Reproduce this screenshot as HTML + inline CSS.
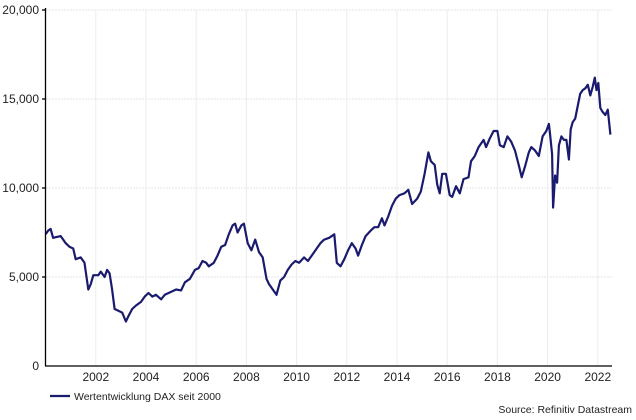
<!DOCTYPE html>
<html><head><meta charset="utf-8"><style>
body{margin:0;background:#fff;}
svg text{font-family:"Liberation Sans",sans-serif;fill:#222;}
</style></head><body>
<svg id="c" width="636" height="415" viewBox="0 0 636 415" xmlns="http://www.w3.org/2000/svg">
<g stroke="#e4e4e4" stroke-width="1" stroke-dasharray="2,1">
<line x1="46" y1="10" x2="612" y2="10"/><line x1="46" y1="99" x2="612" y2="99"/>
<line x1="46" y1="188" x2="612" y2="188"/><line x1="46" y1="277" x2="612" y2="277"/>
</g>
<g id="vg" stroke="#ececec" stroke-width="1"></g>
<polyline id="ln" fill="none" stroke="#1a1a6e" stroke-width="2.2" stroke-linejoin="round"/>
<line x1="45.5" y1="8" x2="45.5" y2="366" stroke="#000" stroke-width="1.3"/>
<line x1="45" y1="366" x2="612" y2="366" stroke="#000" stroke-width="1.3"/>
<g stroke="#000" stroke-width="1.3">
<line x1="42" y1="10" x2="46" y2="10"/><line x1="42" y1="99" x2="46" y2="99"/>
<line x1="42" y1="188" x2="46" y2="188"/><line x1="42" y1="277" x2="46" y2="277"/>
</g>
<g font-size="12" text-anchor="end">
<text x="39" y="14">20,000</text><text x="39" y="103">15,000</text>
<text x="39" y="192">10,000</text><text x="39" y="281">5,000</text><text x="39" y="370">0</text>
</g>
<g id="xl" font-size="12" text-anchor="middle"></g>
<line x1="50" y1="396" x2="70" y2="396" stroke="#1a1a6e" stroke-width="2.2"/>
<text x="74" y="400" font-size="10.5">Wertentwicklung DAX seit 2000</text>
<text x="632" y="413" font-size="10.5" text-anchor="end">Source: Refinitiv Datastream</text>
</svg>
<script>
var d=[2000.0,7400,2000.1,7600,2000.2,7700,2000.3,7200,2000.45,7250,2000.6,7300,2000.7,7100,2000.8,6900,2000.95,6700,2001.1,6600,2001.2,6000,2001.4,6100,2001.55,5800,2001.7,4300,2001.8,4600,2001.9,5100,2002.1,5100,2002.2,5300,2002.35,5000,2002.45,5400,2002.55,5200,2002.65,4300,2002.75,3200,2002.9,3100,2003.05,3000,2003.2,2500,2003.3,2800,2003.45,3200,2003.6,3400,2003.8,3600,2003.95,3900,2004.1,4100,2004.25,3900,2004.4,4000,2004.6,3750,2004.75,4000,2004.9,4100,2005.05,4200,2005.2,4300,2005.4,4250,2005.55,4700,2005.75,4900,2005.95,5400,2006.1,5500,2006.25,5900,2006.4,5800,2006.5,5600,2006.7,5800,2006.85,6200,2007.0,6700,2007.15,6800,2007.3,7400,2007.45,7900,2007.55,8000,2007.65,7500,2007.8,7900,2007.9,8000,2008.05,6900,2008.2,6500,2008.35,7100,2008.5,6400,2008.65,6100,2008.8,4900,2008.9,4600,2009.05,4300,2009.2,4000,2009.35,4800,2009.5,5000,2009.65,5400,2009.8,5700,2009.95,5900,2010.1,5800,2010.3,6100,2010.45,5900,2010.6,6200,2010.8,6600,2010.95,6900,2011.1,7100,2011.3,7200,2011.5,7400,2011.6,5800,2011.75,5600,2011.9,6000,2012.05,6500,2012.2,6900,2012.35,6600,2012.45,6200,2012.6,6800,2012.75,7300,2012.95,7600,2013.1,7800,2013.25,7800,2013.4,8300,2013.5,7900,2013.65,8400,2013.8,9000,2013.95,9400,2014.1,9600,2014.3,9700,2014.45,9900,2014.6,9100,2014.8,9400,2014.95,9800,2015.1,10800,2015.25,12000,2015.35,11500,2015.5,11300,2015.6,10200,2015.7,9700,2015.8,10800,2015.95,10800,2016.1,9600,2016.2,9500,2016.35,10100,2016.5,9700,2016.65,10500,2016.85,10600,2016.95,11500,2017.1,11800,2017.25,12300,2017.45,12700,2017.55,12300,2017.7,12800,2017.85,13200,2018.0,13200,2018.1,12400,2018.25,12300,2018.4,12900,2018.55,12600,2018.7,12100,2018.85,11300,2018.97,10600,2019.1,11200,2019.25,12000,2019.35,12300,2019.5,12100,2019.65,11800,2019.8,12900,2019.95,13200,2020.05,13600,2020.1,13000,2020.18,11900,2020.22,8900,2020.3,10700,2020.38,10300,2020.45,12400,2020.55,12900,2020.65,12700,2020.75,12700,2020.85,11600,2020.92,13300,2021.0,13700,2021.1,13900,2021.2,14600,2021.3,15300,2021.4,15500,2021.5,15600,2021.6,15800,2021.7,15200,2021.8,15700,2021.88,16200,2021.95,15500,2022.02,15900,2022.1,14500,2022.18,14300,2022.3,14100,2022.4,14400,2022.5,13000];
var p=[];for(var i=0;i<d.length;i+=2){p.push(((45.6+(d[i]-2000)*25.1)).toFixed(1)+","+(366-d[i+1]*0.0178).toFixed(1));}
document.getElementById('ln').setAttribute('points',p.join(' '));
var vg=document.getElementById('vg'),xl=document.getElementById('xl'),ns="http://www.w3.org/2000/svg";
for(var y=2002;y<=2022;y+=2){var x=45.6+(y-2000)*25.1;
var l=document.createElementNS(ns,'line');l.setAttribute('x1',x);l.setAttribute('x2',x);l.setAttribute('y1',10);l.setAttribute('y2',366);vg.appendChild(l);
var t=document.createElementNS(ns,'text');t.setAttribute('x',x);t.setAttribute('y',381);t.textContent=y;xl.appendChild(t);}
</script>
</body></html>
